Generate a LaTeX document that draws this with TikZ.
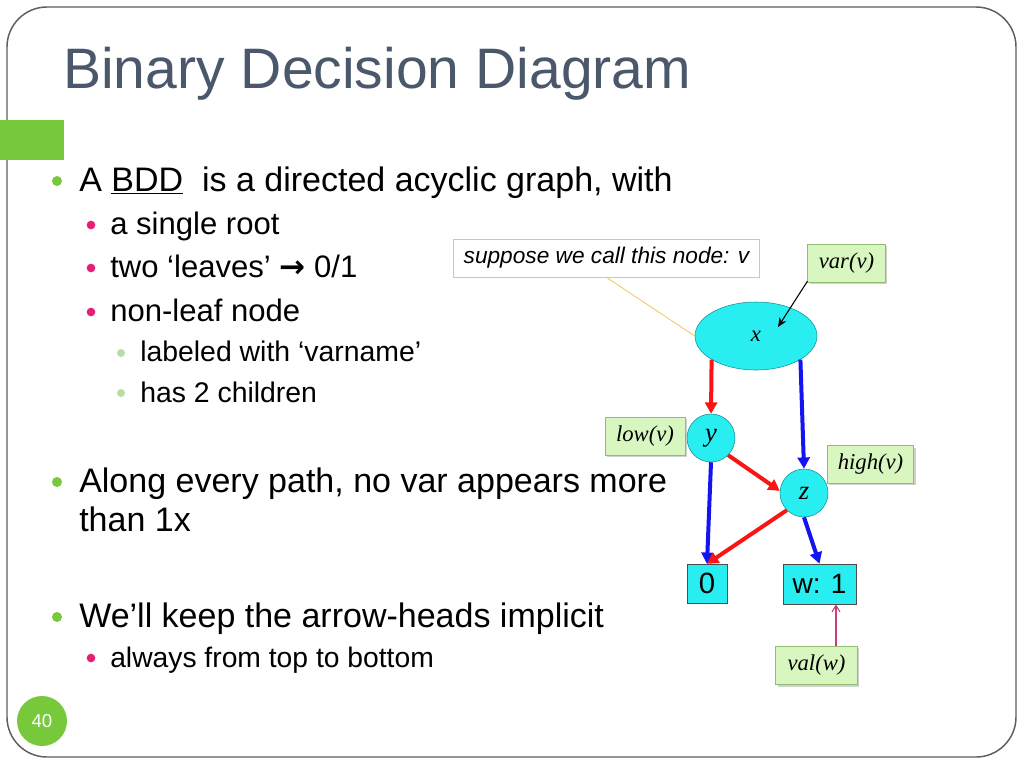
\documentclass[tikz,border=0pt]{standalone}
\usepackage{fontspec}
\setmainfont{Liberation Sans}
\newfontfamily\tms{Liberation Serif}
\newfontfamily\djv{DejaVu Sans}
\usetikzlibrary{shapes.geometric,arrows.meta,shadows,calc}
\definecolor{titlec}{RGB}{75,88,108}
\definecolor{bulgreen}{RGB}{120,200,60}
\definecolor{bulpink}{RGB}{230,30,120}
\definecolor{bullight}{RGB}{185,222,165}
\definecolor{framec}{RGB}{95,95,95}
\definecolor{bddcyan}{RGB}{40,238,242}
\definecolor{bddedge}{RGB}{20,140,150}
\definecolor{lblfill}{RGB}{216,246,192}
\definecolor{lblborder}{RGB}{145,190,110}
\definecolor{calloutc}{RGB}{240,200,90}
\definecolor{arrred}{RGB}{250,20,20}
\definecolor{arrblue}{RGB}{20,20,240}
\definecolor{valarr}{RGB}{200,60,130}
\tikzset{
  maintxt/.style={anchor=base west, inner sep=0pt, font=\fontsize{25.5}{30}\selectfont},
  subtxt/.style={anchor=base west, inner sep=0pt, font=\fontsize{23.3}{28}\selectfont},
  subtxtb/.style={anchor=base west, inner sep=0pt, font=\fontsize{21.2}{26}\selectfont},
  subsubtxt/.style={anchor=base west, inner sep=0pt, font=\fontsize{21.3}{25}\selectfont},
  bulA/.style={circle, fill=bulgreen, inner sep=0pt, minimum size=7.5pt},
  bulB/.style={circle, fill=bulpink, inner sep=0pt, minimum size=6.5pt},
  bulC/.style={circle, fill=bullight, inner sep=0pt, minimum size=6pt},
  bddnode/.style={draw=bddedge, line width=0.4pt, fill=bddcyan, inner sep=0pt},
  lbl/.style={draw=lblborder, line width=0.6pt, fill=lblfill, inner sep=0pt,
    minimum height=28.5pt,
    drop shadow={shadow xshift=1.5pt, shadow yshift=-1.5pt, fill=black!40, opacity=0.45},
    font={\fontsize{17}{20}\selectfont\tms\itshape}},
  redarr/.style={draw=arrred, line width=3pt, -{Triangle[length=8.5pt,width=9pt]}},
  bluearr/.style={draw=arrblue, line width=3pt, -{Triangle[length=8.5pt,width=9pt]}},
}
\begin{document}
\begin{tikzpicture}[x=0.75pt,y=-0.75pt]
\useasboundingbox (0,0) rectangle (1024,768);
\fill[white] (0,0) rectangle (1024,768);
% frame
\draw[framec, line width=1.1pt, rounded corners=30pt] (7,7) rectangle (1016,757);
\fill[bulgreen] (0,120) rectangle (64,160);
\node[circle, fill=bulgreen, minimum size=37.5pt, inner sep=0pt, text=white,
  font=\fontsize{14}{16}\selectfont] (pg) at (42,721) {40};
% title
\node[anchor=base west, inner sep=0pt, text=titlec, font=\fontsize{42.8}{50}\selectfont] (title) at (63,88) {Binary Decision Diagram};
% bullets
\node[bulA] (b1) at (57,181) {};
\node[maintxt] (t1) at (79,191) {A \underline{BDD}\ \ is a directed acyclic graph, with};
\node[bulB] (b2) at (91,225) {};
\node[subtxt] (t2) at (110,234) {a single root};
\node[bulB] (b3) at (91,268) {};
\node[subtxt] (t3) at (110,277) {two ‘leaves’ {\djv\bfseries →} 0/1};
\node[bulB] (b4) at (91,312) {};
\node[subtxt] (t4) at (110,321) {non-leaf node};
\node[bulC] (b5) at (121,353) {};
\node[subsubtxt] (t5) at (140,361) {labeled with ‘varname’};
\node[bulC] (b6) at (121,393) {};
\node[subsubtxt] (t6) at (140,402) {has 2 children};
\node[bulA] (b7) at (57,482) {};
\node[maintxt] (t7) at (79,492) {Along every path, no var appears more};
\node[maintxt] (t7b) at (79,531) {than 1x};
\node[bulA] (b8) at (57,617) {};
\node[maintxt] (t8) at (79,627) {We’ll keep the arrow-heads implicit};
\node[bulB] (b9) at (91,658) {};
\node[subtxtb] (t9) at (110,667) {always from top to bottom};
% graph
\node[draw=calloutc, fill=white, line width=0.6pt, minimum width=230pt, minimum height=28.5pt, inner sep=0pt,
  font=\fontsize{17}{20}\selectfont\itshape] (cl) at (606.5,258) {suppose we call this node: v};
\node[ellipse, bddnode, minimum width=91.5pt, minimum height=51pt,
  font={\fontsize{17}{20}\selectfont\tms\itshape}] (x) at (756,336) {x};
\node[lbl, minimum width=58pt] (var) at (846.5,263) {var(v)};
\node[lbl, minimum width=60pt] (low) at (645,436) {low(v)};
\node[circle, bddnode, minimum size=36pt, font={\fontsize{20}{24}\selectfont\tms\itshape}] (y) at (711,438) {y};
\node[circle, bddnode, minimum size=36pt, font={\fontsize{20}{24}\selectfont\tms\itshape}] (z) at (804,493) {z};
\node[lbl, minimum width=65pt, minimum height=28pt] (high) at (870.5,464.5) {high(v)};
\node[bddnode, draw=black!70, minimum width=30pt, minimum height=29pt, font=\fontsize{22}{24}\selectfont] (zero) at (707,583.5) {0};
\node[bddnode, draw=black!70, minimum width=55pt, minimum height=30pt, font=\fontsize{21}{24}\selectfont] (w) at (819.5,584) {w: 1};
\node[lbl, minimum width=61pt, minimum height=29pt] (val) at (816.5,665.5) {val(w)};
% connectors
\draw[calloutc, line width=0.6pt] (cl.south) -- (x.west);
\draw[black, line width=0.8pt, -{Stealth[length=7pt,width=6pt]}] (var.205) -- ($(x.center)+(22,-9)$);
\draw[redarr] (x.208) -- (y.north);
\draw[bluearr] (x.-28) -- (z.north);
\draw[redarr] (y.-45) -- (z.175);
\draw[bluearr] (y.south) -- (zero.north);
\draw[redarr] (z.-135) -- (zero.north);
\draw[bluearr] (z.south) -- (w.north);
\draw[valarr, line width=0.8pt, -{Straight Barb[length=5pt,width=6pt]}] ($(val.north)+(19.5,0)$) -- ($(w.south)+(16.5,0)$);
\end{tikzpicture}
\end{document}
